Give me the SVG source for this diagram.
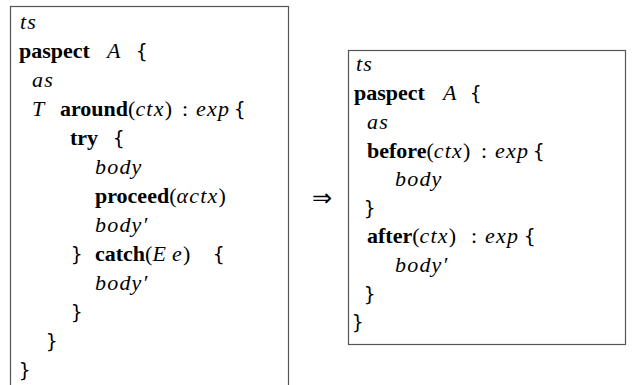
<svg xmlns="http://www.w3.org/2000/svg" width="635" height="385" viewBox="0 0 635 385">
<style>
text{font-family:"Liberation Serif","Times New Roman",serif;font-size:22px;fill:#000}
.i{font-style:italic;letter-spacing:1.2px}
.b{font-weight:bold}
.m{font-family:"DejaVu Sans Mono","Liberation Mono",monospace;font-size:19px}
.box{fill:#fff;stroke:#555;stroke-width:1.2}
</style>
<rect width="635" height="385" fill="#fff"/>
<g id="left">
<rect class="box" x="10.5" y="6.5" width="278" height="400"/>
<text class="i" x="20" y="29">ts</text>
<text y="58"><tspan class="b" x="19">paspect</tspan><tspan class="i" x="107">A</tspan><tspan class="m" x="136">{</tspan></text>
<text class="i" x="32" y="87">as</text>
<text y="116"><tspan class="i" x="32">T</tspan><tspan class="b" x="60">around</tspan><tspan>(</tspan><tspan class="i">ctx</tspan><tspan>)</tspan><tspan x="182">:</tspan><tspan class="i" x="196">exp</tspan><tspan class="m" x="234">{</tspan></text>
<text y="145"><tspan class="b" x="70">try</tspan><tspan class="m" x="113">{</tspan></text>
<text class="i" x="95" y="174">body</text>
<text y="203"><tspan class="b" x="95">proceed</tspan><tspan>(</tspan><tspan class="i">αctx</tspan><tspan>)</tspan></text>
<text class="i" x="95" y="232">body′</text>
<text y="261"><tspan class="m" x="71">}</tspan><tspan class="b" x="95">catch</tspan><tspan>(</tspan><tspan class="i">E</tspan><tspan class="i" x="172">e</tspan><tspan>)</tspan><tspan class="m" x="213">{</tspan></text>
<text class="i" x="95" y="290">body′</text>
<text class="m" x="71" y="319">}</text>
<text class="m" x="46" y="348">}</text>
<text class="m" x="19" y="377">}</text>
</g>
<g id="arrow">
<text x="312" y="206" style="font-family:'DejaVu Sans',sans-serif;font-size:24px">⇒</text>
</g>
<g id="right">
<rect class="box" x="348.5" y="50.5" width="277" height="294"/>
<text class="i" x="356" y="71">ts</text>
<text y="100"><tspan class="b" x="354">paspect</tspan><tspan class="i" x="443">A</tspan><tspan class="m" x="470">{</tspan></text>
<text class="i" x="367" y="128.5">as</text>
<text y="157.5"><tspan class="b" x="367">before</tspan><tspan>(</tspan><tspan class="i">ctx</tspan><tspan>)</tspan><tspan x="481">:</tspan><tspan class="i" x="495">exp</tspan><tspan class="m" x="533">{</tspan></text>
<text class="i" x="395" y="186">body</text>
<text class="m" x="364" y="214.5">}</text>
<text y="243"><tspan class="b" x="367">after</tspan><tspan>(</tspan><tspan class="i">ctx</tspan><tspan>)</tspan><tspan x="471">:</tspan><tspan class="i" x="485">exp</tspan><tspan class="m" x="524">{</tspan></text>
<text class="i" x="395" y="272">body′</text>
<text class="m" x="364" y="300.5">}</text>
<text class="m" x="352" y="329">}</text>
</g>
</svg>
